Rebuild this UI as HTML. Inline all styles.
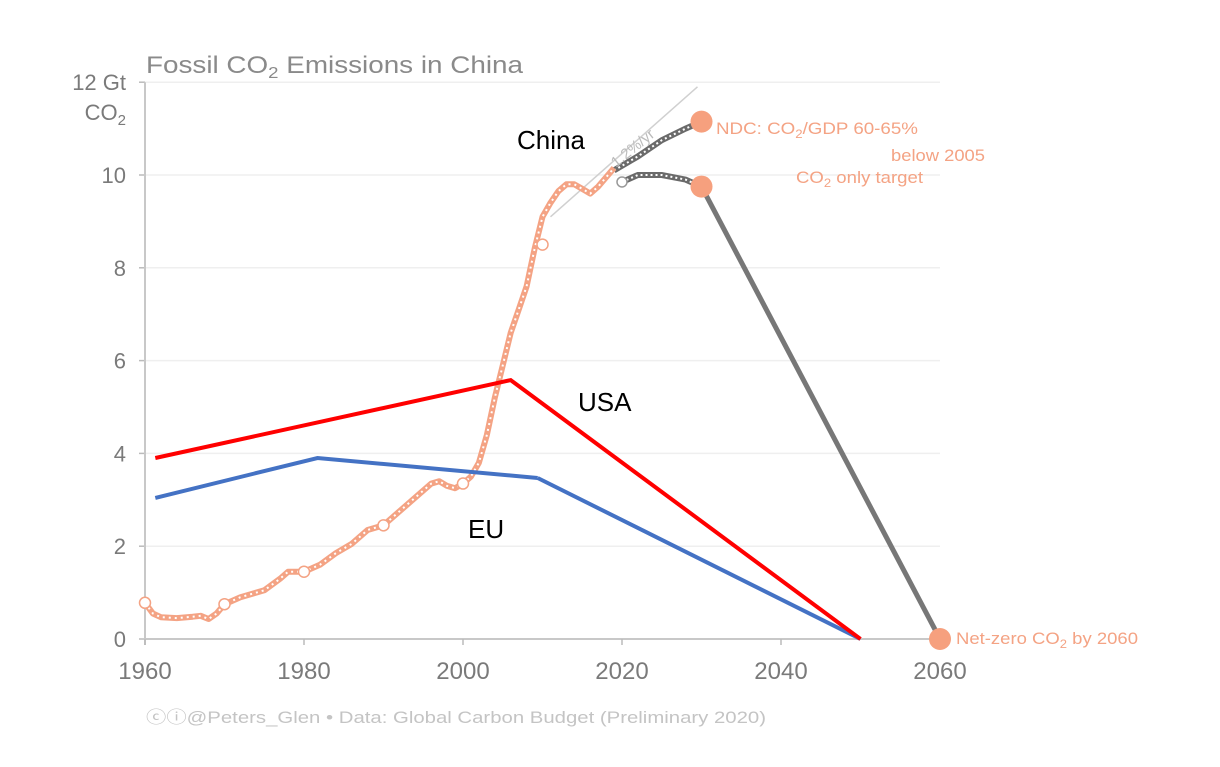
<!DOCTYPE html>
<html><head><meta charset="utf-8"><style>
html,body{margin:0;padding:0;background:#fff;}
svg text{font-family:"Liberation Sans",Arial,sans-serif;}
</style></head><body>
<svg id="chart" width="1220" height="762" viewBox="0 0 1220 762" xmlns="http://www.w3.org/2000/svg">
<g id="grid"></g>
<g id="axes"></g>
<g id="marks"></g>
<text x="146" y="73" font-size="24" fill="#8a8a8a" textLength="377" lengthAdjust="spacingAndGlyphs">Fossil CO<tspan font-size="16" dy="5">2</tspan><tspan dy="-5"> Emissions in China</tspan></text>
<text x="126" y="90" font-size="22" fill="#7a7a7a" text-anchor="end">12 Gt</text>
<text x="126" y="120" font-size="22" fill="#7a7a7a" text-anchor="end">CO<tspan font-size="15" dy="5">2</tspan></text>
<text x="517" y="149" font-size="26" fill="#000">China</text>
<text x="578" y="411" font-size="26" fill="#000">USA</text>
<text x="468" y="538" font-size="26" fill="#000">EU</text>
<text x="716" y="134" font-size="17" fill="#f4a384" textLength="202" lengthAdjust="spacingAndGlyphs">NDC: CO<tspan font-size="12" dy="4">2</tspan><tspan dy="-4">/GDP 60-65%</tspan></text>
<text x="891" y="161" font-size="17" fill="#f4a384" textLength="94" lengthAdjust="spacingAndGlyphs">below 2005</text>
<text x="796" y="183" font-size="17" fill="#f4a384" textLength="127" lengthAdjust="spacingAndGlyphs">CO<tspan font-size="12" dy="4">2</tspan><tspan dy="-4"> only target</tspan></text>
<text x="956" y="644" font-size="17" fill="#f4a384" textLength="182" lengthAdjust="spacingAndGlyphs">Net-zero CO<tspan font-size="12" dy="4">2</tspan><tspan dy="-4"> by 2060</tspan></text>
<text x="616" y="168" font-size="15" fill="#bbb" transform="rotate(-39 616 168)">1.2%/yr</text>
<text x="146" y="723" font-size="17" fill="#c4c4c4" textLength="620" lengthAdjust="spacingAndGlyphs">ⓒⓘ@Peters_Glen  •  Data: Global Carbon Budget (Preliminary 2020)</text>
</svg>
<script>
const xTicks=[1960,1980,2000,2020,2040,2060];
const yTicks=[0,2,4,6,8,10,12];
const yTickLabels=["0","2","4","6","8","10",""];
const chinaYears=[1960,1961,1962,1964,1966,1967,1968,1969,1970,1972,1975,1977,1978,1980,1982,1984,1986,1988,1990,1992,1994,1996,1997,1998,1999,2000,2001,2002,2003,2004,2005,2006,2007,2008,2009,2010,2011,2012,2013,2014,2015,2016,2017,2018,2019];
const chinaValues=[0.78,0.55,0.47,0.45,0.48,0.5,0.43,0.55,0.75,0.9,1.05,1.3,1.45,1.45,1.6,1.85,2.05,2.35,2.45,2.75,3.05,3.35,3.4,3.3,3.25,3.35,3.5,3.8,4.4,5.2,5.9,6.6,7.1,7.6,8.4,9.1,9.4,9.65,9.8,9.8,9.7,9.6,9.75,9.95,10.15];
const circleYears=[1960,1970,1980,1990,2000,2010];
const circleValues=[0.78,0.75,1.45,2.45,3.35,8.5];
const ndcYears=[2019,2022,2025,2028,2030];
const ndcValues=[10.1,10.4,10.75,11.0,11.15];
const co2Years=[2020,2022,2025,2028,2030];
const co2Values=[9.85,10.0,10.0,9.9,9.75];
const pathYears=[2030,2060];
const pathValues=[9.75,0];
const usaYears=[1961.3,2006,2050];
const usaValues=[3.9,5.58,0];
const euYears=[1961.3,1981.7,2009.4,2050];
const euValues=[3.04,3.9,3.47,0];
const trendYears=[2011,2029.5];
const trendValues=[9.1,11.9];

const NS="http://www.w3.org/2000/svg";
const X=y=>145+(y-1960)*7.95;
const Y=v=>639-v*46.4;
function mk(tag,attrs,parent){const e=document.createElementNS(NS,tag);for(const k in attrs)e.setAttribute(k,attrs[k]);document.getElementById(parent).appendChild(e);return e;}
function pts(xs,vs){return xs.map((x,i)=>X(x).toFixed(1)+","+Y(vs[i]).toFixed(1)).join(" ");}

yTicks.forEach((t,i)=>{
  const g=mk("line",{x1:145,x2:940,y1:Y(t),y2:Y(t),stroke:t===0?"#c8c8c8":"#efefef","stroke-width":t===0?2:1.5},"grid");
  
  
  const tk=mk("line",{x1:139,x2:145,y1:Y(t),y2:Y(t),stroke:"#bbb","stroke-width":1.5},"axes");
  
  
  if(yTickLabels[i]){const tx=mk("text",{x:126,y:Y(t)+8,"font-size":22,fill:"#7a7a7a","text-anchor":"end"},"axes");tx.textContent=yTickLabels[i];
  
  }
});
const ax=mk("line",{x1:145,x2:145,y1:Y(12),y2:Y(0)+6,stroke:"#c8c8c8","stroke-width":2},"axes");


xTicks.forEach(t=>{
  const tk=mk("line",{x1:X(t),x2:X(t),y1:Y(0),y2:Y(0)+6,stroke:"#bbb","stroke-width":1.5},"axes");
  
  
  const tx=mk("text",{x:X(t),y:679,"font-size":24,fill:"#7a7a7a","text-anchor":"middle"},"axes");tx.textContent=t;
  
  
});

let e;
e=mk("polyline",{points:pts(trendYears,trendValues),fill:"none",stroke:"#d0d0d0","stroke-width":1.5},"marks");


e=mk("polyline",{points:pts(pathYears,pathValues),fill:"none",stroke:"#777","stroke-width":5},"marks");


[[ndcYears,ndcValues,'ndc-projection'],[co2Years,co2Values,'co2-target-projection']].forEach(([xs,vs,n])=>{
  e=mk("polyline",{points:pts(xs,vs),fill:"none",stroke:"#6a6a6a","stroke-width":6},"marks");
  
  
  e=mk("polyline",{points:pts(xs,vs),fill:"none",stroke:"#fff","stroke-width":2,"stroke-dasharray":"2 3"},"marks");
  
  
});
e=mk("polyline",{points:pts(chinaYears,chinaValues),fill:"none",stroke:"#f4a384","stroke-width":6,"stroke-linejoin":"round"},"marks");


e=mk("polyline",{points:pts(chinaYears,chinaValues),fill:"none",stroke:"#fff","stroke-width":2,"stroke-dasharray":"2 4"},"marks");


circleYears.forEach((y,i)=>{
  e=mk("circle",{cx:X(y),cy:Y(circleValues[i]),r:5.5,fill:"#fff",stroke:"#f4a384","stroke-width":1.5},"marks");
  
  
});
e=mk("circle",{cx:X(2020),cy:Y(9.85),r:5,fill:"#fff",stroke:"#999","stroke-width":1.5},"marks");


[[2030,11.15,'ndc-target-dot'],[2030,9.75,'co2-target-dot'],[2060,0,'net-zero-dot']].forEach(([y,v,n])=>{
  e=mk("circle",{cx:X(y),cy:Y(v),r:11,fill:"#f6a07e"},"marks");
  
  
});
e=mk("polyline",{points:pts(euYears.slice(0,3),euValues.slice(0,3)),fill:"none",stroke:"#4472c4","stroke-width":4},"marks");


e=mk("polyline",{points:pts(euYears.slice(2),euValues.slice(2)),fill:"none",stroke:"#4472c4","stroke-width":4},"marks");


e=mk("polyline",{points:pts(usaYears,usaValues),fill:"none",stroke:"#ff0000","stroke-width":4},"marks");


</script>
</body></html>
